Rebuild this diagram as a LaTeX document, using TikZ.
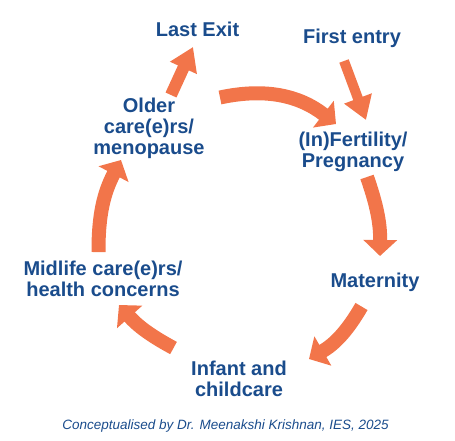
\documentclass[tikz,border=0pt]{standalone}
\usepackage{fontspec}
\setmainfont{Liberation Sans}
\usetikzlibrary{arrows.meta}
\definecolor{cycle-orange}{HTML}{F2754A}
\definecolor{label-blue}{HTML}{1A4C8C}

\begin{document}
\begin{tikzpicture}[x=1pt, y=-1pt,
    lbl/.style={text=label-blue, font=\fontsize{20}{21}\selectfont\bfseries,
      align=center, inner sep=0pt},
    cyc/.style={line width=14pt, color=cycle-orange,
      -{Triangle[length=16pt, width=33pt]}},
    ptr/.style={color=cycle-orange, -{Triangle[length=23pt, width=28pt]}}]
    \useasboundingbox (0,0) rectangle (455,441);
    % stages
    \node[lbl] (exit) at (197.5, 29.5) {Last Exit};
    \node[lbl] (entry) at (352, 38) {First entry};
    \node[lbl] (older) at (149, 128) {Older\\care(e)rs/\\menopause};
    \node[lbl] (fert) at (353, 152) {(In)Fertility/\\Pregnancy};
    \node[lbl] (mat) at (375, 282) {Maternity};
    \node[lbl] (mid) at (103, 279) {Midlife care(e)rs/\\health concerns};
    \node[lbl] (inf) at (239, 378.4) {Infant and\\childcare};
    \node[text=label-blue, font=\fontsize{13.5}{15}\selectfont\itshape,
      inner sep=0pt] (credit) at (225.5, 426)
      {Conceptualised by Dr. Meenakshi Krishnan, IES, 2025};
    % arrow ends
    \coordinate (ex0) at (171, 95);    \coordinate (ex1) at (193, 47);
    \coordinate (en0) at (344, 61);    \coordinate (en1) at (366, 120);
    \coordinate (a0) at (220, 97.5);   \coordinate (a1) at (336, 124);
    \coordinate (b0) at (367, 177);    \coordinate (b1) at (380, 256);
    \coordinate (c0) at (361.5, 306.5);\coordinate (c1) at (309, 359);
    \coordinate (d0) at (173.5, 348);  \coordinate (d1) at (119, 305);
    \coordinate (e0) at (98.5, 252);   \coordinate (e1) at (121, 160);
    \draw[ptr, line width=12pt] (ex0) -- (ex1);
    \draw[ptr, line width=10pt] (en0) -- (en1);
    \draw[cyc] (a0) to[bend left=25] (a1);
    \draw[cyc] (b0) to[bend left=10] (b1);
    \draw[cyc] (c0) to[bend left=15] (c1);
    \draw[cyc] (d0) to[bend left=10] (d1);
    \draw[cyc] (e0) to[bend left=14] (e1);
\end{tikzpicture}
\end{document}
